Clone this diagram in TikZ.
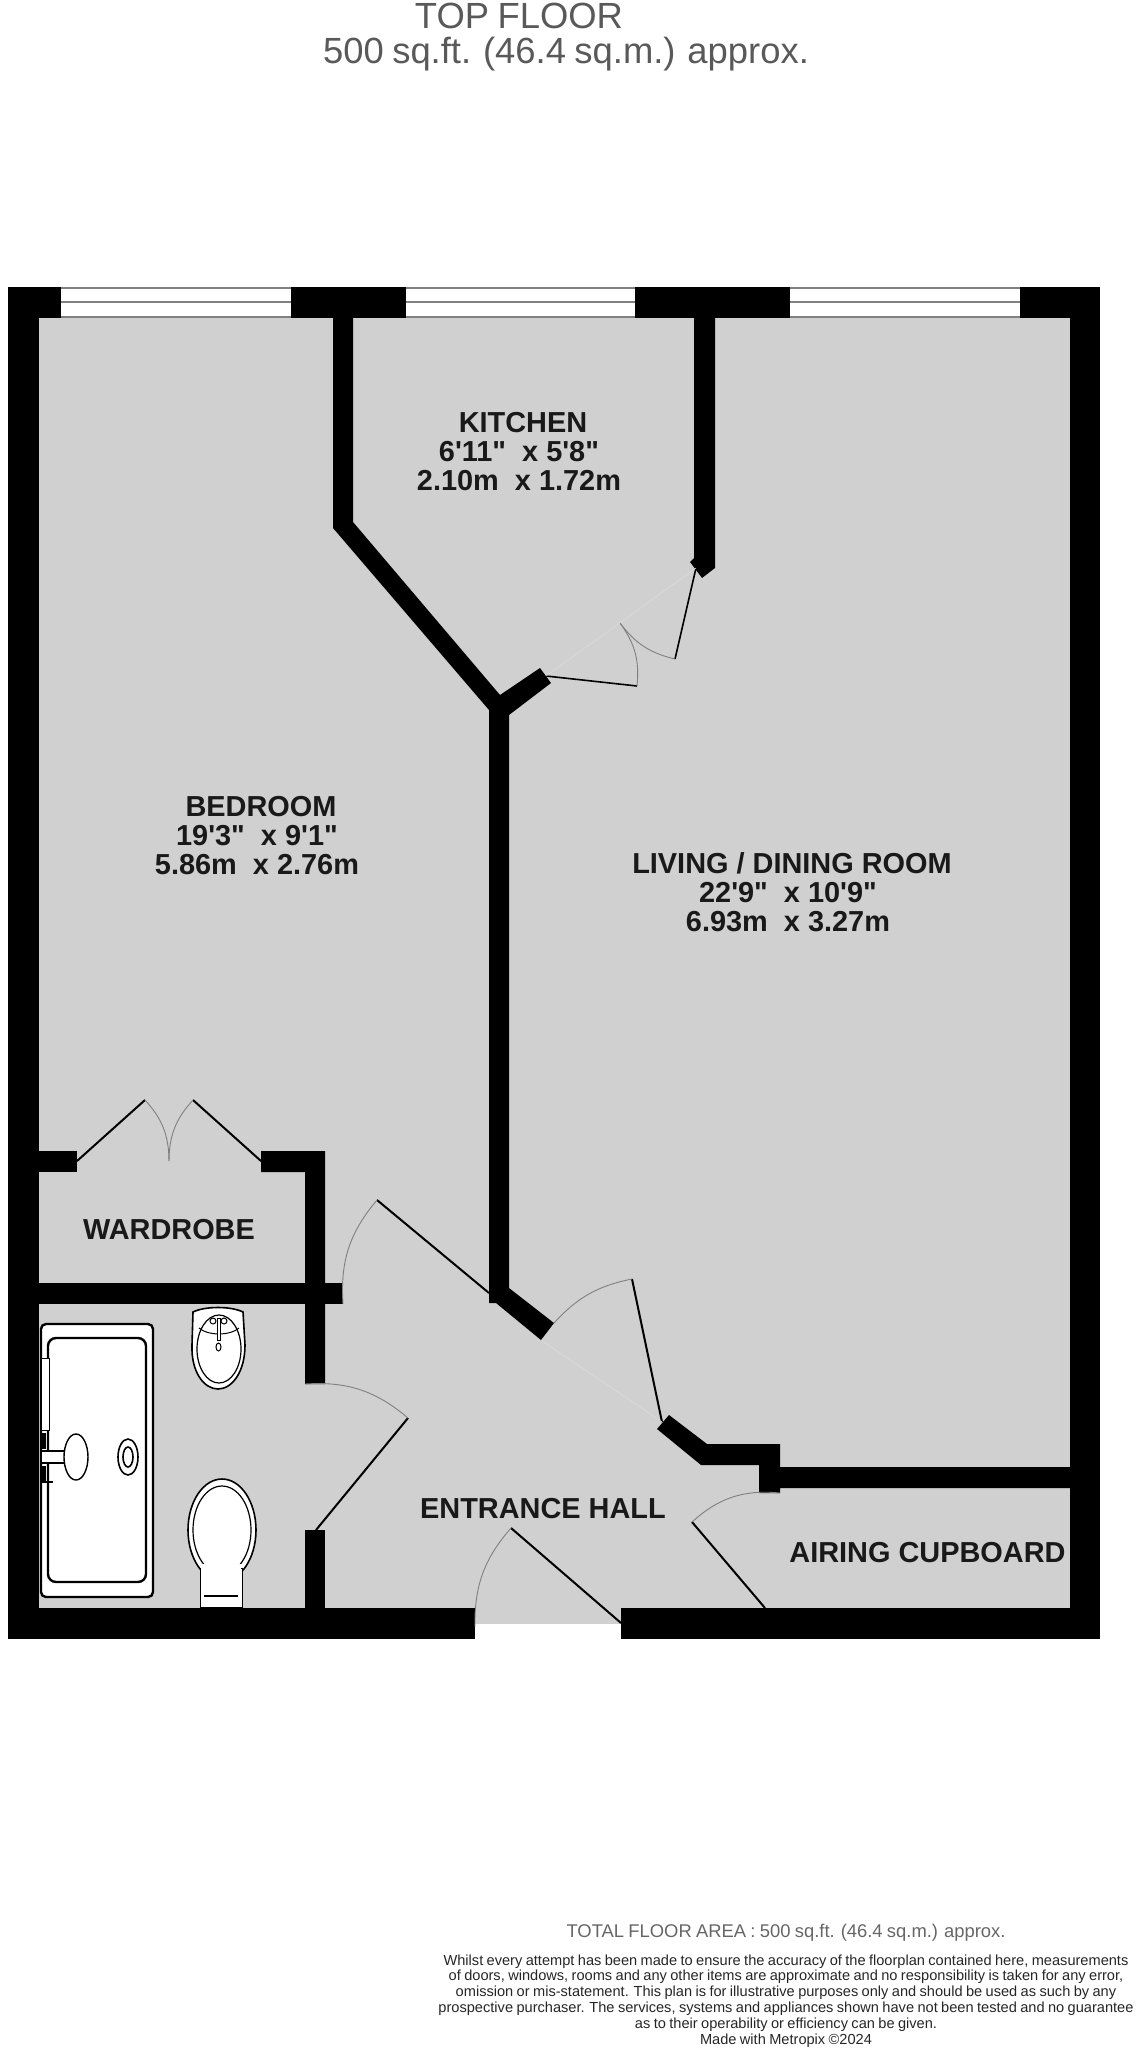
\documentclass[tikz,border=0pt]{standalone}
\usepackage{fontspec}
\newfontfamily\planfont{Liberation Sans}
\newcommand{\plansize}[2]{\planfont\fontsize{#1}{#2}\selectfont\spaceskip=.233em\relax}
\newcommand{\dimline}[1]{\hbox{#1\kern 8pt}}
\tikzset{wall/.style={fill=black}}
\tikzset{glass/.style={draw=black!50,line width=2.4pt}}
\tikzset{leaf/.style={draw=black,line width=2pt}}
\tikzset{swing/.style={draw=black!50,line width=0.9pt}}
\tikzset{sill/.style={draw=black!14,line width=0.6pt}}
\tikzset{fixture/.style={draw=black,fill=white,line width=1.6pt}}
\tikzset{room/.style={font=\planfont\bfseries\fontsize{28.9}{29}\selectfont,align=center,text=black!90,inner sep=0pt}}
\tikzset{title/.style={font=\plansize{36.4}{36},text=black!65,inner sep=0pt}}

\begin{document}
\begin{tikzpicture}[x=1pt,y=-1pt]
\useasboundingbox (0,0) rectangle (1140,2048);

% floor
\fill[black!18.5] (39,318) rectangle (1070,1608);
\fill[black!18.5] (475,1608) rectangle (621,1624);

% outer walls
\fill[wall] (8,287) rectangle (39,1639);
\fill[wall] (1070,287) rectangle (1100,1639);
\fill[wall] (8,1608) rectangle (475,1639);
\fill[wall] (621,1608) rectangle (1100,1639);
\fill[wall] (8,287) rectangle (61,318);
\fill[wall] (291,287) rectangle (406,318);
\fill[wall] (635,287) rectangle (790,318);
\fill[wall] (1020,287) rectangle (1100,318);

% windows
\foreach \xa/\xb in {61/291,406/635,790/1020} {
  \draw[glass] (\xa,288) -- (\xb,288);
  \draw[glass] (\xa,302) -- (\xb,302);
  \draw[glass] (\xa,317) -- (\xb,317);
}

% inner walls
\fill[wall] (333,318) -- (353,318) -- (353,522) -- (500,695) -- (540,668) -- (551,683)
  -- (509,715) -- (509,1288) -- (554,1323) -- (541,1340) -- (496,1303) -- (489,1303)
  -- (489,710) -- (333,528) -- cycle;
\fill[wall] (694,318) -- (715,318) -- (715,568) -- (702,578) -- (690,562) -- (694,558) -- cycle;
\fill[wall] (669,1415) -- (707,1444) -- (780,1444) -- (780,1467) -- (1070,1467) -- (1070,1488)
  -- (780,1488) -- (780,1493) -- (759,1493) -- (759,1465) -- (701,1465) -- (657,1429) -- cycle;
\fill[wall] (39,1151) rectangle (77,1172);
\fill[wall] (261,1151) -- (325,1151) -- (325,1384) -- (305,1384) -- (305,1172) -- (261,1172) -- cycle;
\fill[wall] (39,1283) rectangle (343,1304);
\fill[wall] (305,1530) rectangle (325,1608);

% door ends
\coordinate (wardL) at (77,1161);
\coordinate (wardLt) at (145,1100);
\coordinate (wardR) at (261,1161);
\coordinate (wardRt) at (193,1100);
\coordinate (wardM) at (169,1161);
\coordinate (bedH) at (489,1293);
\coordinate (bedT) at (377,1200);
\coordinate (bedJ) at (343,1304);
\coordinate (bathH) at (316,1530);
\coordinate (bathT) at (408,1418);
\coordinate (bathJ) at (305,1384);
\coordinate (liveH) at (662,1422);
\coordinate (liveT) at (632,1279);
\coordinate (liveJ) at (554,1323);
\coordinate (liveS) at (541,1340);
\coordinate (airH) at (765,1608);
\coordinate (airT) at (692,1522);
\coordinate (airJ) at (780,1493);
\coordinate (entH) at (621,1623);
\coordinate (entT) at (511,1528);
\coordinate (entJ) at (475,1627);
\coordinate (kitRH) at (696,568);
\coordinate (kitRT) at (675,659);
\coordinate (kitLH) at (546,676);
\coordinate (kitLT) at (637,686);
\coordinate (kitM) at (620,623);

\draw[leaf] (wardL) -- (wardLt);
\draw[swing] (wardLt) to[bend left=21] (wardM);
\draw[leaf] (wardR) -- (wardRt);
\draw[swing] (wardRt) to[bend right=21] (wardM);
\draw[leaf] (bedH) -- (bedT);
\draw[swing] (bedT) to[bend right=22] (bedJ);
\draw[leaf] (bathH) -- (bathT);
\draw[swing] (bathT) to[bend right=22] (bathJ);
\draw[leaf] (liveH) -- (liveT);
\draw[swing] (liveT) to[bend right=18] (liveJ);
\draw[leaf] (airH) -- (airT);
\draw[swing] (airT) to[bend left=24] (airJ);
\draw[leaf] (entH) -- (entT);
\draw[swing] (entT) to[bend right=21] (entJ);
\draw[leaf,line width=1.6pt] (kitRH) -- (kitRT);
\draw[swing] (kitRT) to[bend left=20] (kitM);
\draw[leaf,line width=1.6pt] (kitLH) -- (kitLT);
\draw[swing] (kitLT) to[bend right=21] (kitM);
\draw[sill] (kitRH) -- (kitLH);
\draw[sill] (liveS) -- (liveH);

% bath
\draw[fixture,line width=2.4pt,rounded corners=5pt] (41,1324) rectangle (153,1597);
\draw[fixture,line width=2.4pt,rounded corners=8pt] (48,1338) rectangle (146,1582);
\draw[fixture,line width=1pt] (41,1358) rectangle (49,1430);
\fill[black] (41,1433) rectangle (46,1449);
\fill[black] (41,1466) rectangle (46,1483);
\fill[black] (41,1481) rectangle (53,1483);
\draw[fixture,line width=1.4pt] (41,1451) rectangle (68,1463);
\draw[fixture,line width=1.4pt] (76,1457) ellipse (12 and 23);
\draw[fixture] (128,1457) ellipse (10 and 18);
\draw[fixture] (128,1457) ellipse (5 and 10);

% basin
\draw[fixture] (193,1312) .. controls (205,1306) and (231,1306) .. (243,1312) -- (245,1345)
  .. controls (245,1372) and (232,1389) .. (218,1389) .. controls (204,1389) and (191,1372) .. (192,1345) -- cycle;
\draw[fixture,line width=1.2pt] (219,1349) ellipse (22 and 34);
\draw[black,line width=1pt] (199,1328) .. controls (208,1336) and (230,1336) .. (239,1328);
\draw[fixture,line width=1pt] (213,1321) circle (3);
\draw[fixture,line width=1pt] (224,1321) circle (3);
\draw[fixture,line width=1pt] (217,1318) rectangle (220,1340);
\draw[fixture,line width=1pt] (218.5,1347) ellipse (2.5 and 4);

% toilet
\draw[fixture] (222,1530) ellipse (34 and 51);
\draw[fixture,line width=1.2pt] (222,1530) ellipse (29 and 44);
\draw[fixture,line width=1pt] (200,1568) rectangle (242,1607);
\fill[white] (201,1564) rectangle (241,1574);
\draw[black,line width=1.2pt] (204,1596) -- (238,1596);

% labels
\node[title] at (519,16) (topA) {TOP FLOOR};
\node[title] at (566,54) (topB) {500 sq.ft. (46.4 sq.m.) approx.};
\node[room] at (523,451.5) (kitchen) {KITCHEN\\\dimline{6'11"\ \ x 5'8"}\\\dimline{2.10m\ \ x 1.72m}};
\node[room] at (261,835.5) (bedroom) {BEDROOM\\\dimline{19'3"\ \ x 9'1"}\\\dimline{5.86m\ \ x 2.76m}};
\node[room] at (792,892.5) (living) {LIVING / DINING ROOM\\\dimline{22'9"\ \ x 10'9"}\\\dimline{6.93m\ \ x 3.27m}};
\node[room] at (169,1229.5) (wardrobe) {WARDROBE};
\node[room] at (543,1509) (hall) {ENTRANCE HALL};
\node[room] at (927.5,1553) (airing) {AIRING CUPBOARD};
\node[font=\plansize{18.4}{18},text=black!60,inner sep=0pt] at (786,1933) (total) {TOTAL FLOOR AREA : 500 sq.ft. (46.4 sq.m.) approx.};
\node[font=\plansize{14.6}{15.9},text=black!85,align=center,inner sep=0pt] at (786,2001) (notice) {Whilst every attempt has been made to ensure the accuracy of the floorplan contained here, measurements\\of doors, windows, rooms and any other items are approximate and no responsibility is taken for any error,\\omission or mis-statement. This plan is for illustrative purposes only and should be used as such by any\\prospective purchaser. The services, systems and appliances shown have not been tested and no guarantee\\as to their operability or efficiency can be given.\\Made with Metropix \textcopyright 2024};
\end{tikzpicture}
\end{document}
